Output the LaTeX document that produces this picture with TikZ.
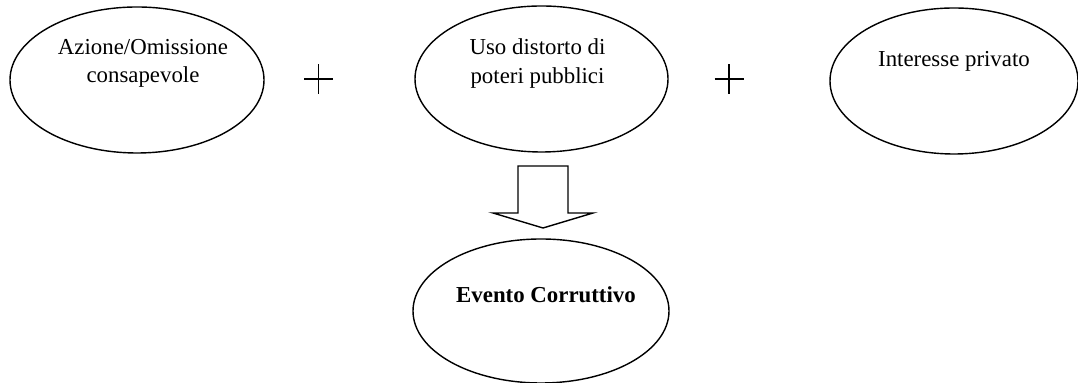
\documentclass[tikz,border=0pt]{standalone}
\usepackage{fontspec}
\setmainfont{Liberation Serif}
\usetikzlibrary{shapes.geometric}
\begin{document}
\begin{tikzpicture}[
    oval/.style={draw, thick, ellipse, inner sep=0pt},
    testo/.style={align=center, font=\fontsize{13}{16}\selectfont},
    piu/.style={thick}
  ]
  \useasboundingbox (0,0) rectangle (21.56,7.66);
  % ellissi
  \node[oval, minimum width=5.08cm, minimum height=2.92cm] (azione) at (2.74,6.06) {};
  \node[oval, minimum width=5.06cm, minimum height=2.92cm] (uso) at (10.83,6.08) {};
  \node[oval, minimum width=4.96cm, minimum height=2.92cm] (interesse) at (19.08,6.04) {};
  \node[oval, minimum width=5.12cm, minimum height=2.88cm] (evento) at (10.82,1.44) {};
  % testi
  \node[testo] (t1) at ([xshift=0.12cm,yshift=0.33cm]azione.center) {Azione/Omissione\\consapevole};
  \node[testo] (t2) at ([xshift=-0.08cm,yshift=0.31cm]uso.center) {Uso distorto di\\poteri pubblici};
  \node[testo] (t3) at ([yshift=0.39cm]interesse.center) {Interesse privato};
  \node[testo, font=\fontsize{13}{16}\selectfont\bfseries] (t4) at ([xshift=0.1cm,yshift=0.32cm]evento.center) {Evento Corruttivo};
  % segni +
  \coordinate (p1) at (6.37,6.08);
  \coordinate (p2) at (14.58,6.08);
  \foreach \p in {p1,p2}{
    \draw[piu] ([xshift=-0.29cm]\p) -- ([xshift=0.29cm]\p);
    \draw[piu] ([yshift=-0.3cm]\p) -- ([yshift=0.3cm]\p);
  }
  % freccia
  \draw[thick, line join=miter]
    (10.36,4.34) -- (11.36,4.34) -- (11.36,3.40) -- (11.86,3.40)
    -- (10.86,3.10) -- (9.86,3.40) -- (10.36,3.40) -- cycle;
\end{tikzpicture}
\end{document}
